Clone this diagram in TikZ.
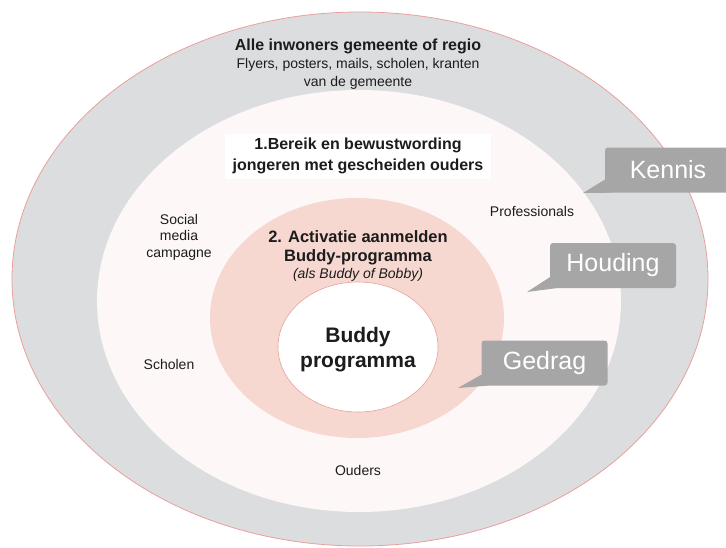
\documentclass[tikz,border=0pt]{standalone}
\usepackage{fontspec}
\setmainfont{Liberation Sans}
\usetikzlibrary{positioning}

\definecolor{ringgray}{HTML}{DCDDDF}
\definecolor{ringline}{HTML}{E9A09C}
\definecolor{palepink}{HTML}{FDF8F7}
\definecolor{rosepink}{HTML}{F6D8D1}
\definecolor{calloutgray}{HTML}{A6A6A6}
\definecolor{labeltext}{HTML}{1C1C1C}

\tikzset{
  smalllabel/.style={text=labeltext, font=\fontsize{14}{16.5}\selectfont, align=center, inner sep=0pt},
  headlabel/.style={text=labeltext, font=\bfseries\fontsize{16}{21}\selectfont, align=center, inner sep=0pt},
  callout/.style={fill=calloutgray, text=white, rounded corners=3pt, font=\fontsize{25}{30}\selectfont,
    minimum height=45pt, minimum width=126pt, inner sep=0pt},
}

\begin{document}
\begin{tikzpicture}[x=1pt, y=-1pt]
    \clip (0,0) rectangle (726,547);

    % Rings
    \filldraw[fill=ringgray, draw=ringline, line width=0.8pt] (360,279) ellipse [x radius=348, y radius=267];
    \fill[palepink] (359,301) ellipse [x radius=262, y radius=211];
    \fill[rosepink] (357,318) ellipse [x radius=147, y radius=120];
    \filldraw[fill=white, draw=ringline, line width=0.6pt] (358,347) ellipse [x radius=80, y radius=65];

    % Outer ring texts
    \node[headlabel] (alle) at (358,46) {Alle inwoners gemeente of regio};
    \node[smalllabel, below=4pt of alle, font=\fontsize{14}{18}\selectfont] (flyers) {Flyers, posters, mails, scholen, kranten\\van de gemeente};

    % Middle ring texts
    \node[headlabel, fill=white, minimum width=266pt, minimum height=45pt] (bereik) at (358,156)
        {1.Bereik en bewustwording\\jongeren met gescheiden ouders};
    \node[smalllabel] (social) at (179,237) {Social\\media\\campagne};
    \node[smalllabel] (prof) at (532,211) {Professionals};
    \node[smalllabel] (scholen) at (169,364) {Scholen};
    \node[smalllabel] (ouders) at (358,470) {Ouders};

    % Pink ring texts
    \node[headlabel, font=\bfseries\fontsize{16.5}{18.5}\selectfont] (activatie) at (358,248) {2. Activatie aanmelden\\Buddy-programma};
    \node[smalllabel, below=3pt of activatie, font=\itshape\fontsize{14}{16}\selectfont] (alsbuddy) {(als Buddy of Bobby)};

    % Centre
    \node[headlabel, font=\bfseries\fontsize{21}{25}\selectfont] (buddy) at (358,350) {Buddy\\programma};

    % Callouts
    \node[callout] (kennis) at (668,170) {Kennis};
    \fill[calloutgray] ([yshift=13pt]kennis.south west) -- (583,193) -- ([xshift=6pt]kennis.south west) -- cycle;

    \node[callout] (houding) at (613,265.5) {Houding};
    \fill[calloutgray] ([yshift=11pt]houding.south west) -- (527,292) -- ([xshift=6pt]houding.south west) -- cycle;

    \node[callout] (gedrag) at (544.5,363) {Gedrag};
    \fill[calloutgray] ([yshift=11pt]gedrag.south west) -- (458,388) -- ([xshift=6pt]gedrag.south west) -- cycle;
\end{tikzpicture}
\end{document}
